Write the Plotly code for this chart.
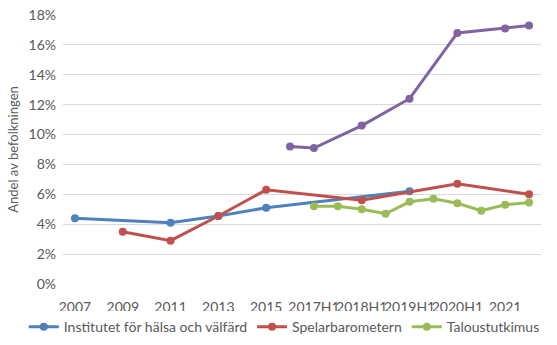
import plotly.graph_objects as go

# Survey periods on the category axis
periods = ["2007", "2008", "2009", "2010", "2011", "2012", "2013", "2014", "2015", "2016",
           "2017H1", "2017H2", "2018H1", "2018H2", "2019H1", "2019H2",
           "2020H1", "2020H2", "2021", "2022"]

# Share of population (%), None where a source has no measurement
thl = [4.4, None, None, None, 4.1, None, 4.55, None, 5.1, None,
       None, None, None, None, 6.2, None, None, None, None, None]
spelarbarometern = [None, None, 3.5, None, 2.9, None, 4.55, None, 6.3, None,
                    None, None, 5.6, None, None, None, 6.7, None, None, 6.0]
taloustutkimus = [None, None, None, None, None, None, None, None, None, None,
                  5.2, 5.2, 5.0, 4.7, 5.5, 5.7, 5.4, 4.9, 5.3, 5.45]
other_source = [None, None, None, None, None, None, None, None, None, 9.2,
                9.1, None, 10.6, None, 12.4, None, 16.8, None, 17.1, 17.3]

tick_labels = ["2007", "2009", "2011", "2013", "2015", "2017H1", "2018H1", "2019H1", "2020H1", "2021"]

series = [
    ("Institutet för hälsa och välfärd", thl, "#4F81BD", True),
    ("Spelarbarometern", spelarbarometern, "#C0504D", True),
    ("Taloustutkimus", taloustutkimus, "#9BBB59", True),
    ("", other_source, "#8064A2", False),
]

fig = go.Figure()
for name, vals, color, show in series:
    fig.add_trace(go.Scatter(
        x=periods,
        y=[v / 100 if v is not None else None for v in vals],
        name=name,
        mode="lines+markers",
        connectgaps=True,
        line=dict(color=color, width=3),
        marker=dict(color=color, size=8, symbol="circle"),
        showlegend=show,
    ))

font_family = "Lato, 'Open Sans', sans-serif"
grey = "#595959"

fig.update_layout(
    width=557, height=345,
    margin=dict(l=63, r=16, t=15, b=61, autoexpand=False),
    paper_bgcolor="white", plot_bgcolor="white",
    font=dict(family=font_family, size=13, color=grey),
    xaxis=dict(
        type="category",
        categoryorder="array", categoryarray=periods,
        range=[-0.5, len(periods) - 0.5],
        tickmode="array", tickvals=tick_labels, ticktext=tick_labels,
        showgrid=False, showline=False, zeroline=False,
        tickangle=0, ticks="", ticklabelstandoff=13,
        tickfont=dict(size=14, color=grey),
    ),
    yaxis=dict(
        range=[0, 0.18],
        dtick=0.02, tickformat=".0%",
        showgrid=True, gridcolor="#D9D9D9", gridwidth=1,
        zeroline=False, showline=False, ticks="", ticklabelstandoff=6,
        tickfont=dict(size=14, color=grey),
        title=dict(text="Andel av befolkningen", font=dict(size=13, color=grey), standoff=6),
    ),
    legend=dict(
        orientation="h", x=-0.082, xanchor="left", y=-0.16, yanchor="middle",
        font=dict(size=14, color=grey),
        itemwidth=30, tracegroupgap=0,
    ),
)

fig.write_html("out.html")
